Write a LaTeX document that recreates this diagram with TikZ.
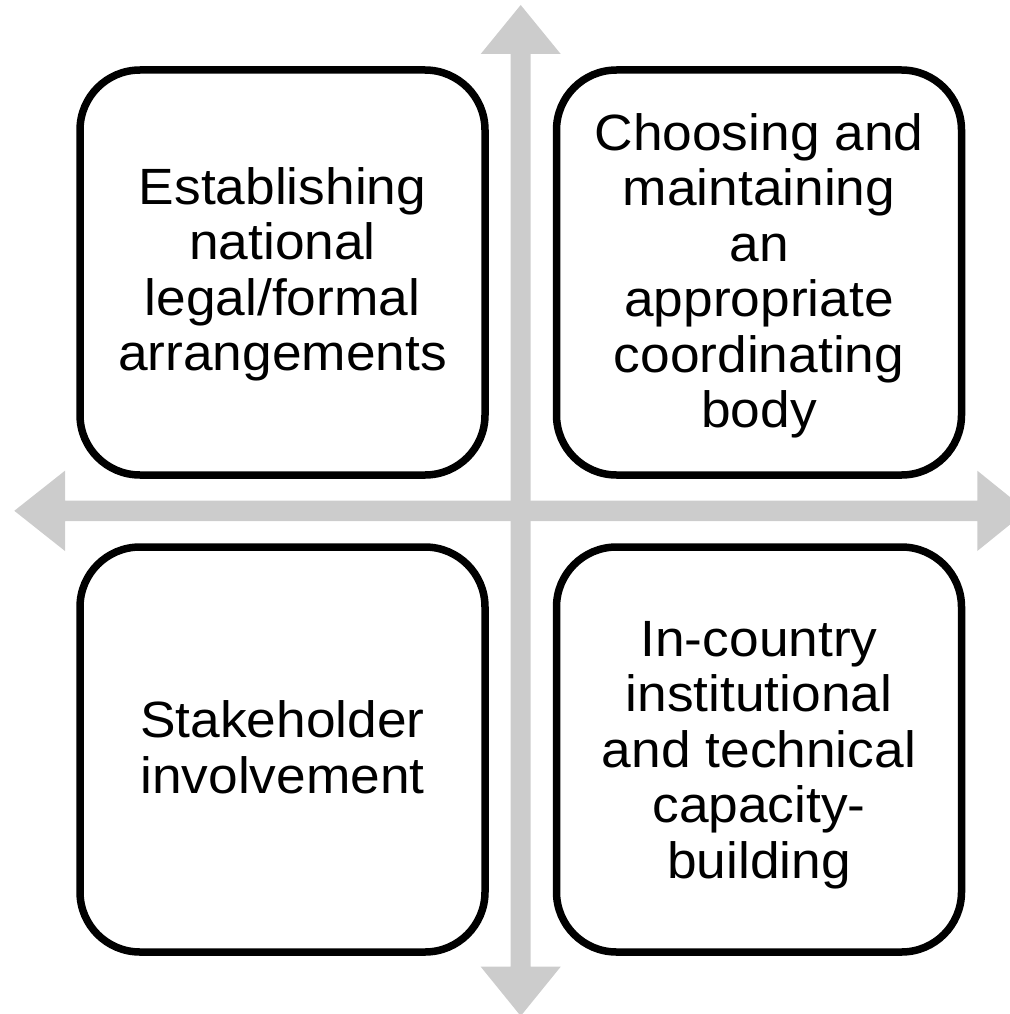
\documentclass[tikz,border=0pt]{standalone}
\usepackage{fontspec}
\setmainfont{Liberation Sans}[FakeStretch=1.045]
\definecolor{axisgray}{RGB}{204,204,204}
\tikzset{
  quadbox/.style={draw=black, line width=7.5pt, rounded corners=60pt, fill=white,
    minimum width=405pt, minimum height=405pt, inner sep=0pt},
  quadtext/.style={align=center, inner sep=0pt,
    font=\fontsize{51pt}{55.5pt}\selectfont},
  axisfill/.style={fill=axisgray, draw=none}
}
\begin{document}
\begin{tikzpicture}[x=1pt,y=-1pt]
\useasboundingbox (0,0) rectangle (1009,1014);
% vertical double arrow
\fill[axisfill] (520.7,5) -- (560.7,54) -- (530.7,54) -- (530.7,966.7) -- (560.7,966.7)
  -- (520.7,1016) -- (480.7,966.7) -- (510.7,966.7) -- (510.7,54) -- (480.7,54) -- cycle;
% horizontal double arrow
\fill[axisfill] (14.3,510.8) -- (65,470.7) -- (65,500.7) -- (977.3,500.7) -- (977.3,470.7)
  -- (1027,510.8) -- (977.3,551) -- (977.3,521) -- (65,521) -- (65,551) -- cycle;
% boxes
\node[quadbox] (tl) at (282.5,272.5) {};
\node[quadbox] (tr) at (759,272.5) {};
\node[quadbox] (bl) at (282.5,749.5) {};
\node[quadbox] (br) at (759,749.5) {};
% texts
\node[quadtext] (tltext) at ([yshift=-1.9pt]tl.center) {Establishing\\national\\legal/formal\\arrangements};
\node[quadtext] (trtext) at ([yshift=-3.1pt]tr.center) {Choosing and\\maintaining\\an\\appropriate\\coordinating\\body};
\node[quadtext] (bltext) at ([yshift=2.2pt]bl.center) {Stakeholder\\involvement};
\node[quadtext] (brtext) at ([yshift=-5.3pt]br.center) {In-country\\institutional\\and technical\\capacity-\\building};
\end{tikzpicture}
\end{document}
